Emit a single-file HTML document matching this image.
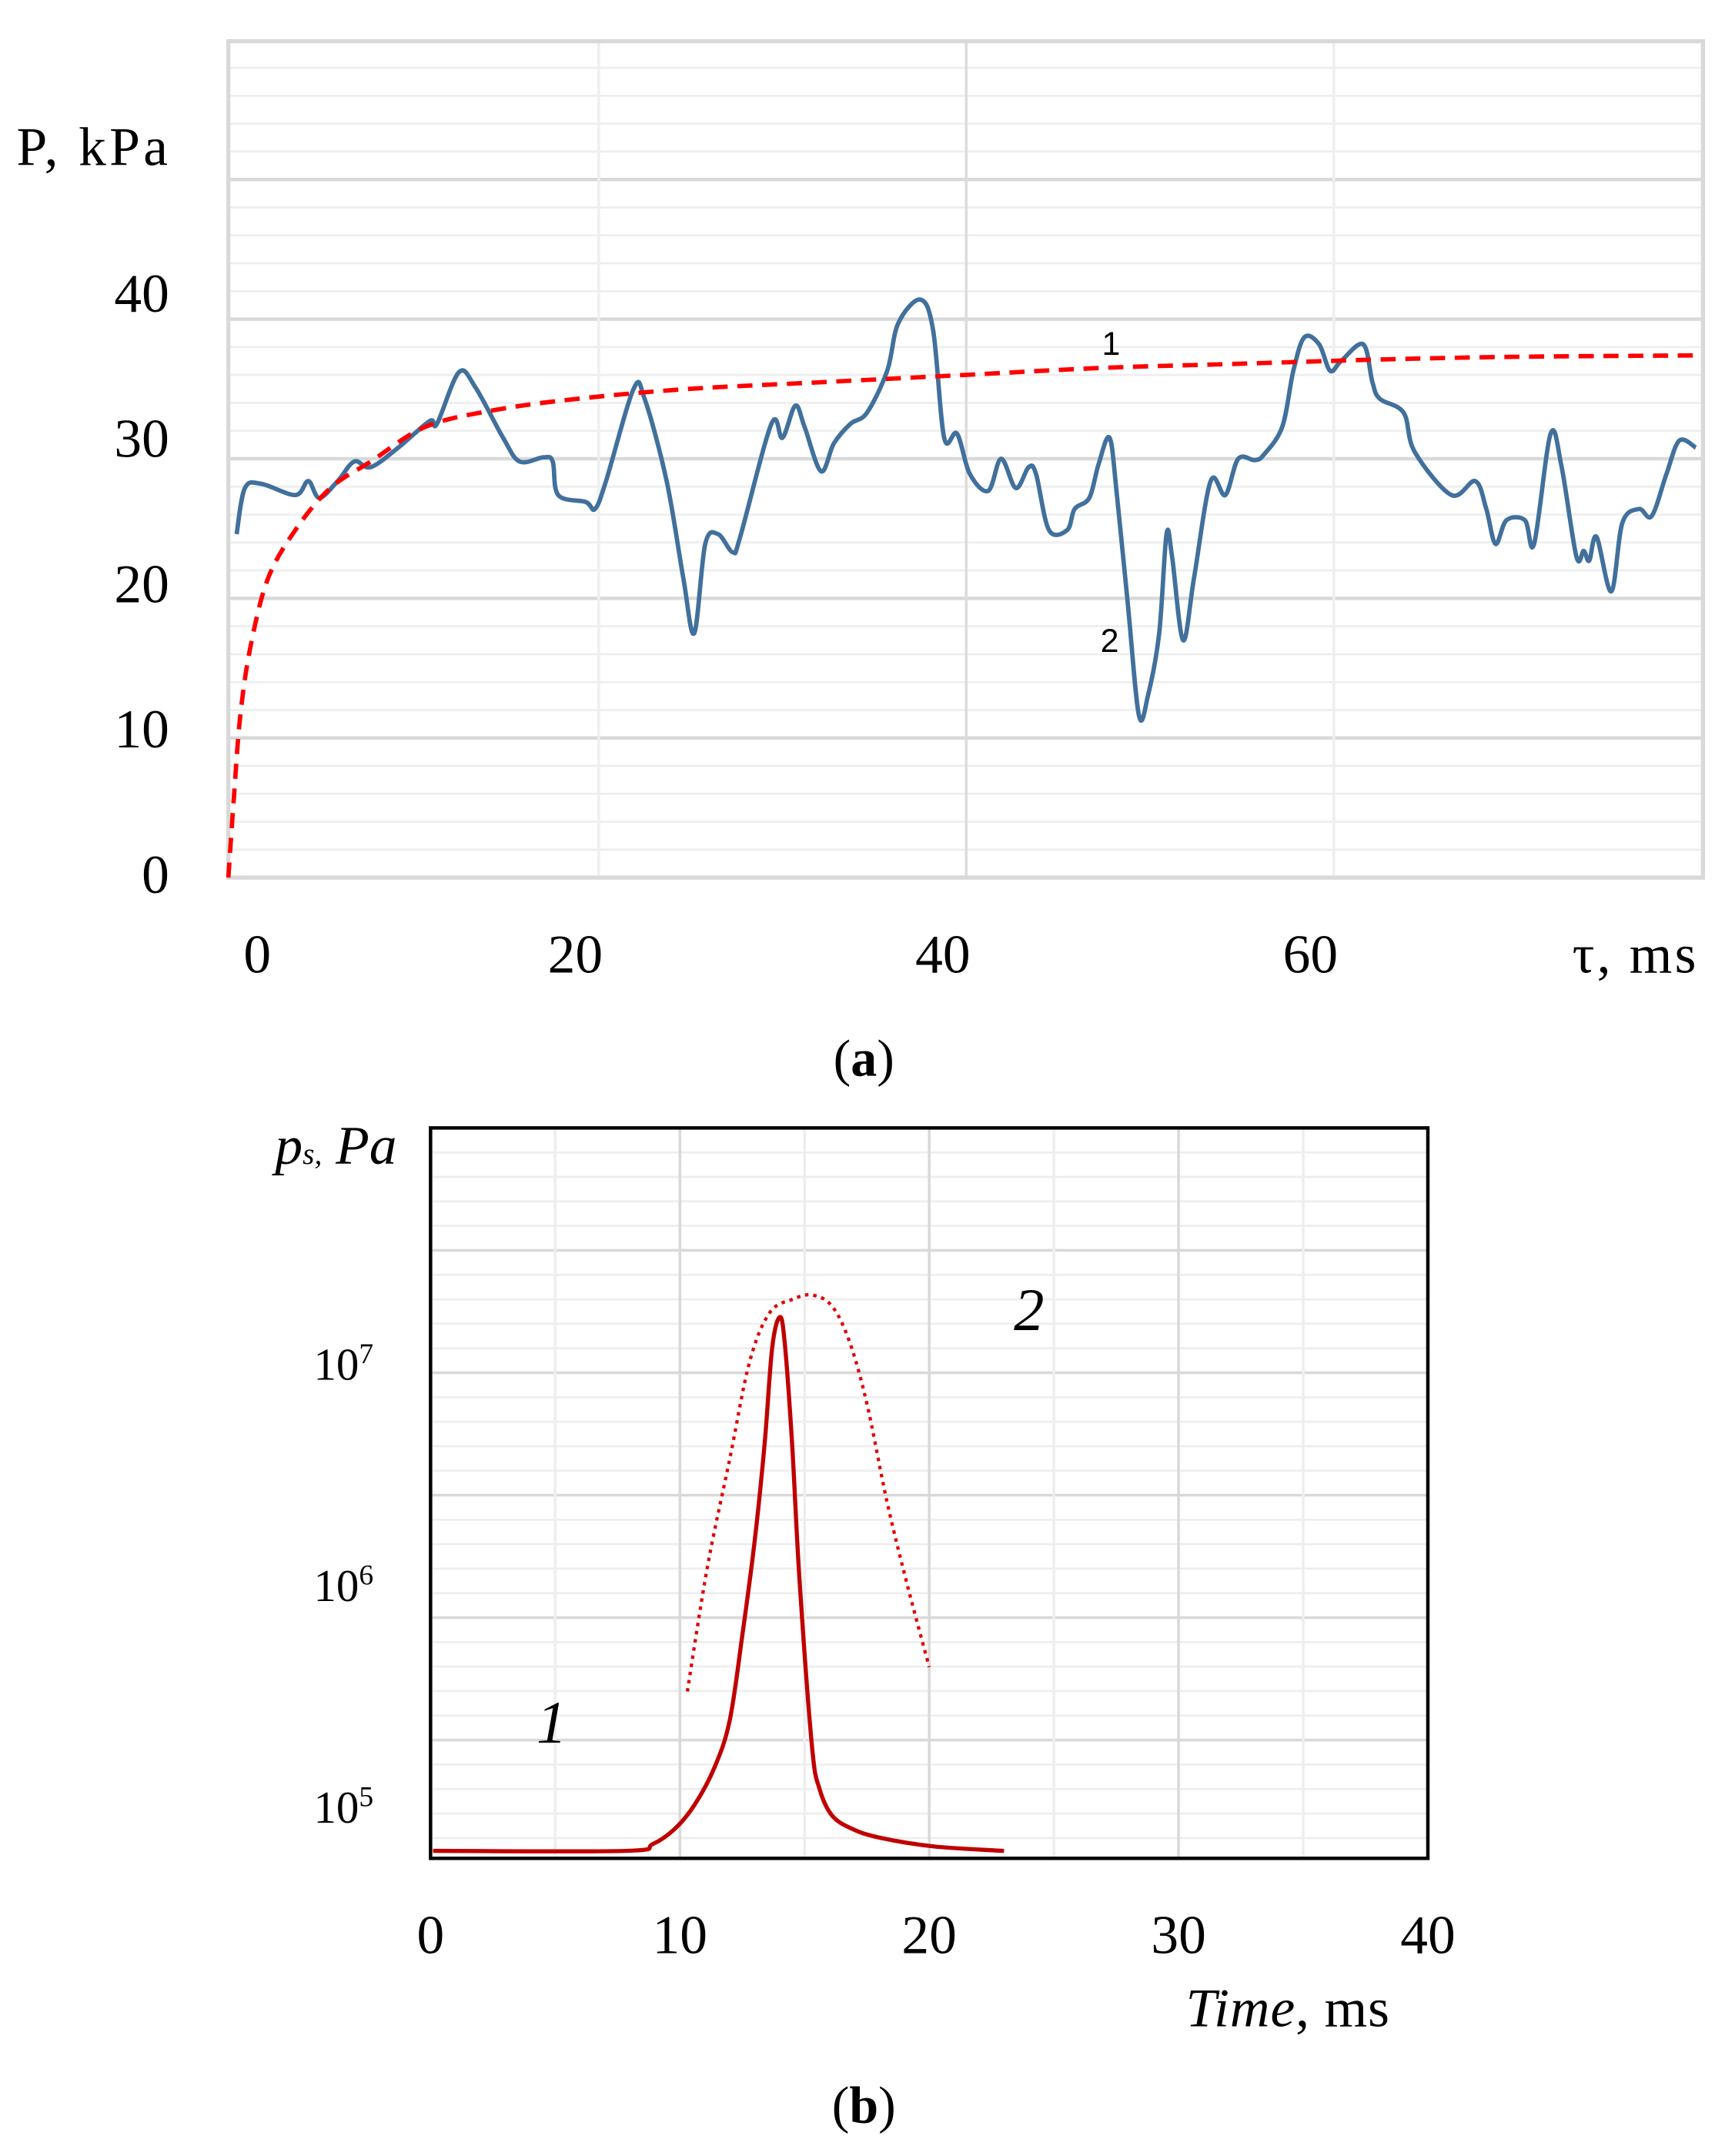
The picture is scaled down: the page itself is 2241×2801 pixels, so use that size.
<!DOCTYPE html>
<html><head><meta charset="utf-8">
<style>
html,body{margin:0;padding:0;background:#fff;}
svg{display:block;}
text{font-family:"Liberation Serif",serif;fill:#000;}
</style></head>
<body>
<svg id="fig" width="2241" height="2801" viewBox="0 0 1254 1567.4" preserveAspectRatio="none" xmlns="http://www.w3.org/2000/svg">
<g id="ga"></g>
<g id="gb"></g>
<text x="12" y="120" font-size="40" textLength="110">P, kPa</text>
<text x="1143" y="707" font-size="40" textLength="90">τ, ms</text>
<text x="801" y="258" font-size="24" style="font-family:'Liberation Sans',sans-serif">1</text>
<text x="800" y="474" font-size="24" style="font-family:'Liberation Sans',sans-serif">2</text>
<text x="628" y="782" font-size="38" text-anchor="middle">(<tspan font-weight="bold">a</tspan>)</text>
<text x="200" y="846" font-size="40" font-style="italic">p<tspan font-size="22">s,</tspan> Pa</text>
<text x="862" y="1473" font-size="40" textLength="148"><tspan font-style="italic">Time</tspan>, ms</text>
<text x="390" y="1267" font-size="44" font-style="italic">1</text>
<text x="737" y="967" font-size="44" font-style="italic">2</text>
<text x="628" y="1543" font-size="38" text-anchor="middle">(<tspan font-weight="bold">b</tspan>)</text>
</svg>
<script>
// ---- Chart A data ----
const aTicksY = [0,10,20,30,40];
const aTicksX = [0,20,40,60];
const aBlueT = [0.3,0.75,1.65,3.5,4.2,4.8,5.8,6.7,7.6,9.1,10.8,11.2,12.4,13.3,14.8,15.7,17.0,17.5,17.8,19.3,19.8,20.4,21.9,22.5,23.7,24.6,25.2,25.8,26.5,27.3,27.7,29.4,30.0,30.7,31.2,32.1,32.8,33.7,34.6,35.7,36.3,37.5,38.2,38.8,39.5,40.2,41.2,41.9,42.7,43.4,43.8,44.5,45.5,45.9,46.7,47.2,47.8,48.2,48.8,49.4,49.9,50.5,50.9,51.2,51.8,52.4,53.3,54.1,54.8,55.7,56.2,57.2,57.8,58.4,59.2,59.8,60.4,61.6,62.1,62.5,63.8,64.4,66.4,67.7,68.3,68.8,69.4,70.4,70.9,71.8,72.4,73.2,73.6,73.9,74.3,75.1,75.7,76.6,77.3,78.1,78.8,79.7];
const aBlueP = [24.6,27.9,28.2,27.4,28.4,27.2,28.4,29.8,29.4,30.8,32.7,32.5,36.2,35.1,31.5,29.8,30.1,29.8,27.4,26.9,26.4,28.4,35.0,34.3,28.4,21.5,17.5,23.9,24.6,23.3,24.4,32.5,31.5,33.8,32.3,29.1,31.1,32.5,33.3,36.3,39.7,41.4,39.2,31.5,31.8,28.9,27.7,30.0,27.9,29.4,28.9,24.9,24.9,26.4,27.2,29.6,31.5,27.4,19.5,11.6,13.1,17.5,24.6,23.0,17.0,21.5,28.4,27.4,30.0,29.9,30.3,32.3,36.3,38.7,38.2,36.3,37.0,38.2,35.5,34.3,33.3,30.5,27.4,28.4,26.4,23.9,25.6,25.6,23.9,31.8,29.4,23.0,23.4,22.7,24.4,20.5,25.4,26.4,25.9,28.9,31.3,30.8];
const aRedT = [-0.15,0.15,0.5,1.05,2.0,3.5,5.4,7.6,10.6,14.4,18.9,24.9,32.4,39.9,47.3,54.8,62.3,69.8,79.7];
const aRedP = [0,5.7,11.6,16.5,21.4,24.9,27.9,29.8,32.3,33.5,34.3,35.0,35.5,36.0,36.5,36.8,37.1,37.3,37.4];
// ---- Chart B data ----
const bTicksX = [0,10,20,30,40];
const bTicksExp = [5,6,7];
const b1T = [0.1,7.8,8.9,9.8,10.6,11.4,12.0,12.5,13.0,13.4,13.7,14.0,14.2,14.5,14.8,15.3,15.6,16.1,16.9,18.0,20.2,23.0];
const b1Log = [4.81,4.81,4.84,4.91,5.02,5.19,5.40,5.78,6.21,6.65,7.08,7.22,7.11,6.65,6.03,5.28,5.09,4.97,4.91,4.87,4.83,4.81];
const b2T = [10.3,11.1,12.0,12.8,13.6,14.5,15.3,16.1,16.8,17.5,18.3,19.1,20.0];
const b2Log = [5.53,6.09,6.58,7.02,7.24,7.30,7.32,7.27,7.11,6.83,6.39,6.02,5.64];

const NS="http://www.w3.org/2000/svg";
function mk(parent,tag,attrs){const e=document.createElementNS(NS,tag);for(const k in attrs)e.setAttribute(k,attrs[k]);parent.appendChild(e);return e;}
function smooth(pts){let d="M"+pts[0][0]+","+pts[0][1];for(let i=0;i<pts.length-1;i++){const p0=pts[i-1]||pts[i],p1=pts[i],p2=pts[i+1],p3=pts[i+2]||p2;const c1=[p1[0]+(p2[0]-p0[0])/6,p1[1]+(p2[1]-p0[1])/6],c2=[p2[0]-(p3[0]-p1[0])/6,p2[1]-(p3[1]-p1[1])/6];d+=" C"+c1[0]+","+c1[1]+" "+c2[0]+","+c2[1]+" "+p2[0]+","+p2[1];}return d;}

// Chart A axes
const ga=document.getElementById('ga');
const axL=166,axR=1238,axT=30,axB=638;
const ax=t=>168+t*13.36, ay=p=>638-p*10.15;
const labY=p=>636-p*10.56;
for(let p=0;p<=60;p+=2){const y=ay(p);if(y<axT)break;const major=p%10===0;
 const l=mk(ga,'line',{x1:axL,x2:axR,y1:y,y2:y,stroke:major?'#d9d9d9':'#eeeeee','stroke-width':major?2.5:1.5});
 
 }
[20,40,60].forEach(t=>{const l=mk(ga,'line',{x1:ax(t),x2:ax(t),y1:axT,y2:axB,stroke:t===40?'#dcdcdc':'#efefef','stroke-width':2});
 
 });
const fa=mk(ga,'rect',{x:axL,y:axT,width:axR-axL,height:axB-axT,fill:'none',stroke:'#d9d9d9','stroke-width':3});


aTicksY.forEach(v=>{const t=mk(ga,'text',{x:123,y:labY(v)+13,'font-size':40,'text-anchor':'end'});t.textContent=v;
 
 });
aTicksX.forEach(v=>{const t=mk(ga,'text',{x:v===0?187:ax(v)-17,y:707,'font-size':40,'text-anchor':'middle'});t.textContent=v;
 
 });
const blue=mk(ga,'path',{d:smooth(aBlueT.map((t,i)=>[ax(t),ay(aBlueP[i])])),fill:'none',stroke:'#41709c','stroke-width':3.2});


const red=mk(ga,'path',{d:smooth(aRedT.map((t,i)=>[ax(t),ay(aRedP[i])])),fill:'none',stroke:'#ff0000','stroke-width':3.2,'stroke-dasharray':'11,7'});



// Chart B
const gb=document.getElementById('gb');
const bL=313,bR=1038,bT=820,bB=1351;
const bx=t=>313+t*18.125, by=lg=>1315-(lg-5)*161;
for(let i=0;i<=30;i++){const y=bT+i*17.8;if(y>bB-2)break;const major=i%5===0&&i>0;
 const l=mk(gb,'line',{x1:bL,x2:bR,y1:y,y2:y,stroke:major?'#d9d9d9':'#eeeeee','stroke-width':major?2:1.5});
 
 }
for(let t=5;t<40;t+=5){const major=t%10===0;const l=mk(gb,'line',{x1:bx(t),x2:bx(t),y1:bT,y2:bB,stroke:major?'#d9d9d9':'#eeeeee','stroke-width':2});
 
 }
const fb=mk(gb,'rect',{x:bL,y:bT,width:bR-bL,height:bB-bT,fill:'none',stroke:'#000','stroke-width':2.5});


bTicksExp.forEach(e=>{const t=mk(gb,'text',{x:228,y:by(e)+10,'font-size':33});t.textContent='10';
 const s=mk(t,'tspan',{'font-size':21,dy:-12});s.textContent=e;
 
 });
bTicksX.forEach(v=>{const t=mk(gb,'text',{x:bx(v),y:1420,'font-size':40,'text-anchor':'middle'});t.textContent=v;
 
 });
const s1=mk(gb,'path',{d:smooth(b1T.map((t,i)=>[bx(t),by(b1Log[i])])),fill:'none',stroke:'#c00000','stroke-width':3});


const s2=mk(gb,'path',{d:smooth(b2T.map((t,i)=>[bx(t),by(b2Log[i])])),fill:'none',stroke:'#e00000','stroke-width':2.4,'stroke-dasharray':'2.5,3.5'});


</script>
</body></html>
